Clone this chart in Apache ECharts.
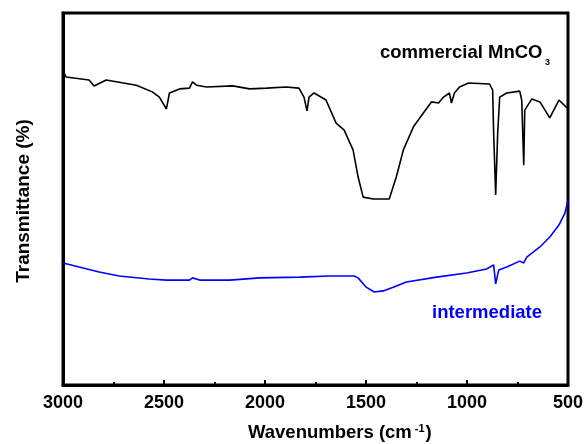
<!DOCTYPE html>
<html><head><meta charset="utf-8">
<script src="https://cdn.jsdelivr.net/npm/echarts@6/dist/echarts.min.js"></script>
<style>html,body{margin:0;padding:0;background:#fff}#c{width:586px;height:444px}</style>
</head><body><div id="c"></div>
<script>
const commercialWave = [2995,2985,2871,2846,2786,2637,2558,2523,2488,2473,2423,2374,2359,2339,2289,2160,2076,1991,1897,1832,1807,1792,1782,1757,1698,1648,1608,1564,1539,1514,1464,1385,1350,1315,1265,1216,1176,1141,1116,1087,1077,1062,1037,992,888,873,868,858,848,838,803,739,729,719,714,679,639,590,545,505];
const commercialT = [83.9,82.8,82.0,80.4,82.0,80.6,78.8,77.4,74.2,78.5,79.6,79.8,81.5,80.6,80.1,80.4,79.6,79.8,80.1,79.8,77.4,73.7,77.4,78.5,76.6,70.4,68.5,63.2,55.9,50.5,50.0,50.0,55.9,63.2,69.4,73.1,76.1,75.8,77.4,78.5,75.8,78.5,80.1,81.2,80.9,79.3,67.7,51.1,67.7,77.4,78.5,79.0,76.6,59.1,73.9,76.9,76.1,71.8,76.6,74.5];
const intermediateWave = [3000,2920,2821,2722,2573,2488,2374,2359,2324,2175,2026,1827,1683,1559,1539,1499,1459,1415,1365,1300,1151,1002,903,868,858,843,803,739,719,704,639,590,545,515,500];
const intermediateT = [32.8,31.7,30.4,29.3,28.5,28.2,28.2,28.8,28.2,28.2,28.8,29.0,29.3,29.3,28.8,26.3,25.0,25.3,26.3,27.7,29.0,30.1,31.2,32.3,27.2,30.9,31.7,33.3,32.8,34.4,37.1,39.8,43.0,46.2,49.7];
const xTicks = [3000,2500,2000,1500,1000,500];

const chart = echarts.init(document.getElementById('c'));
const font = 'Arial, "Liberation Sans", sans-serif';
chart.setOption({
  animation:false,
  grid:{left:63,right:18,top:13,bottom:59,show:true,borderColor:'#000',borderWidth:3},
  xAxis:{type:'value',min:500,max:3000,interval:500,inverse:true,
    axisLine:{show:true,lineStyle:{color:'#000',width:3}},
    axisTick:{show:true,inside:true,length:5,lineStyle:{color:'#000',width:2}},
    minorTick:{show:true,splitNumber:2,length:3,lineStyle:{color:'#000',width:2}},
    splitLine:{show:false},
    axisLabel:{color:'#000',fontFamily:font,fontWeight:'bold',fontSize:18,margin:9,
      formatter:v=>xTicks.includes(v)?String(v):''}
  },
  yAxis:{type:'value',min:0,max:100,
    axisLine:{show:true,lineStyle:{color:'#000',width:3}},
    axisTick:{show:false},axisLabel:{show:false},splitLine:{show:false}
  },
  series:[
    {type:'line',data:commercialWave.map((w,i)=>[w,commercialT[i]]),showSymbol:false,
      lineStyle:{color:'#000',width:1.6}},
    {type:'line',data:intermediateWave.map((w,i)=>[w,intermediateT[i]]),showSymbol:false,
      lineStyle:{color:'#0000ff',width:1.6}}
  ],
  graphic:[
    {type:'text',left:380,top:43,style:{text:'commercial MnCO',fontFamily:font,fontWeight:'bold',fontSize:18.5,fill:'#000'}},
    {type:'text',left:545,top:58,style:{text:'3',fontFamily:font,fontWeight:'bold',fontSize:9,fill:'#000'}},
    {type:'text',left:432,top:303,style:{text:'intermediate',fontFamily:font,fontWeight:'bold',fontSize:18.5,fill:'#0000ff'}},
    {type:'text',left:248,top:423,style:{text:'{a|Wavenumbers (cm}{s|-1}{a|)}',
      rich:{a:{fontFamily:font,fontWeight:'bold',fontSize:18.5,fill:'#000'},
            s:{fontFamily:font,fontWeight:'bold',fontSize:11,fill:'#000',verticalAlign:'top',padding:[0,1,9,3]}}}},
    {type:'text',x:24,y:201,rotation:Math.PI/2,style:{text:'Transmittance (%)',fontFamily:font,fontWeight:'bold',fontSize:19,fill:'#000',align:'center',verticalAlign:'middle'}}
  ]
});
</script></body></html>
